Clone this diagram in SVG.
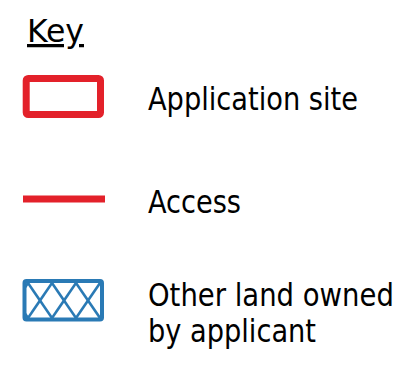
<svg xmlns="http://www.w3.org/2000/svg" width="405" height="366" viewBox="0 0 405 366">
<style>
.t{font-family:"DejaVu Sans Condensed","DejaVu Sans","Liberation Sans",sans-serif;font-size:32.5px;fill:#000;}
.red{fill:none;stroke:#e3212a;stroke-width:7;}
.blue{fill:none;stroke:#2a7ab5;}
</style>
<defs>
<clipPath id="hclip"><rect x="25" y="281.5" width="76.5" height="37.5"/></clipPath>
</defs>
<rect width="405" height="366" fill="#fff"/>
<g id="title">
<text class="t" x="27" y="42" textLength="57" lengthAdjust="spacingAndGlyphs" text-decoration="underline">Key</text>
</g>
<g id="key-site">
<rect class="red" x="26.2" y="78.5" width="74.3" height="36" rx="2"/>
<text class="t" x="148" y="110" textLength="210" lengthAdjust="spacingAndGlyphs">Application site</text>
</g>
<g id="key-access">
<line class="red" x1="23" y1="199" x2="105" y2="199"/>
<text class="t" x="148" y="213" textLength="93" lengthAdjust="spacingAndGlyphs">Access</text>
</g>
<g id="key-other">
<g clip-path="url(#hclip)" class="blue" stroke-width="2.6">
<line x1="-68" y1="248" x2="4" y2="353"/>
<line x1="-44" y1="248" x2="28" y2="353"/>
<line x1="-20" y1="248" x2="52" y2="353"/>
<line x1="4" y1="248" x2="76" y2="353"/>
<line x1="28" y1="248" x2="100" y2="353"/>
<line x1="52" y1="248" x2="124" y2="353"/>
<line x1="76" y1="248" x2="148" y2="353"/>
<line x1="28" y1="248" x2="-44" y2="353"/>
<line x1="52" y1="248" x2="-20" y2="353"/>
<line x1="76" y1="248" x2="4" y2="353"/>
<line x1="100" y1="248" x2="28" y2="353"/>
<line x1="124" y1="248" x2="52" y2="353"/>
<line x1="148" y1="248" x2="76" y2="353"/>
<line x1="172" y1="248" x2="100" y2="353"/>
</g>
<rect class="blue" stroke-width="4" x="24.5" y="281" width="77.5" height="38.5" rx="2"/>
<text class="t" transform="translate(148 306) scale(0.94 1)" x="0" y="0">Other land owned</text>
<text class="t" x="148" y="342" textLength="168" lengthAdjust="spacingAndGlyphs">by applicant</text>
</g>
</svg>
